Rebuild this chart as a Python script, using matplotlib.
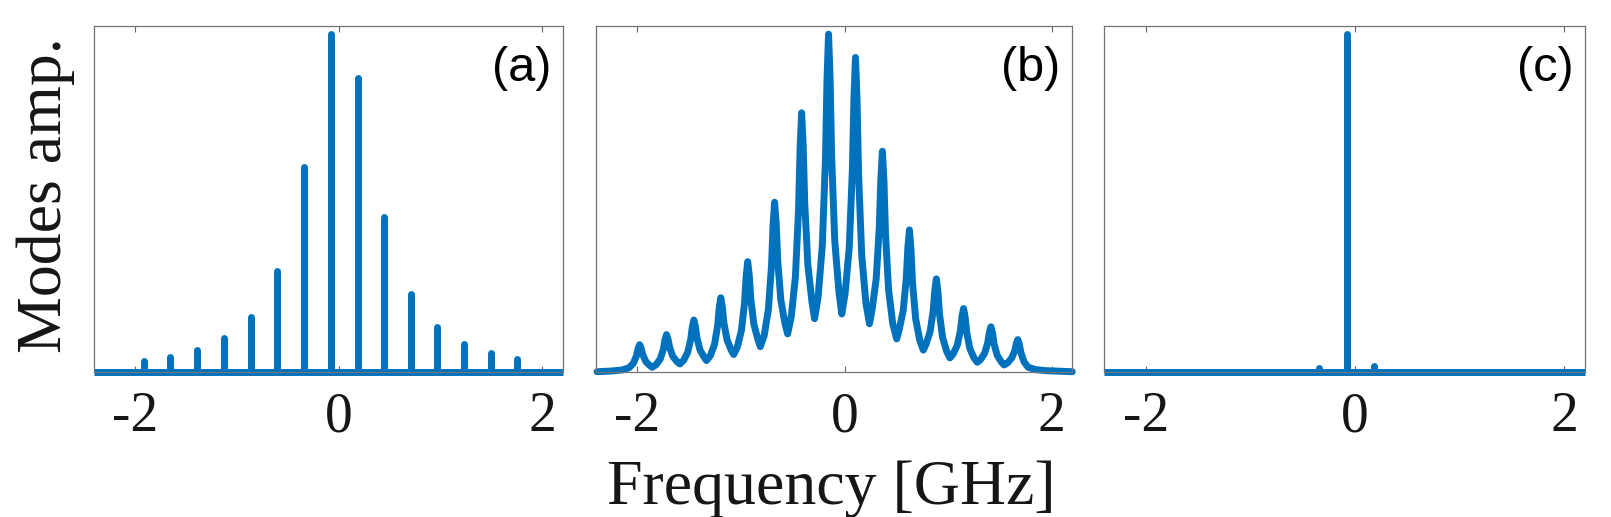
import numpy as np
import matplotlib
matplotlib.use('Agg')
import matplotlib.pyplot as plt

plt.rcParams['axes.unicode_minus'] = False

# x range shared by all three panels [GHz]
x_range = (-2.4, 2.2)
x_ticks = [-2, 0, 2]
blue = '#0072BD'

# (a) narrow comb lines: positions and heights
a_pos = [-1.913, -1.652, -1.390, -1.125, -0.863, -0.602, -0.340, -0.078,
         0.186, 0.445, 0.706, 0.968, 1.233, 1.495, 1.756]
a_amp = [0.033, 0.045, 0.064, 0.099, 0.163, 0.299, 0.607, 1.000,
         0.869, 0.457, 0.230, 0.131, 0.082, 0.055, 0.039]

# (b) broadened modes (one row per mode + valley)
b_x = [-2.39, -2.25, -2.15,
       -2.079, -2.039, -2.009, -1.994, -1.979, -1.964, -1.949, -1.919, -1.879, -1.857,
       -1.819, -1.779, -1.749, -1.734, -1.719, -1.704, -1.689, -1.659, -1.619, -1.590,
       -1.555, -1.515, -1.485, -1.470, -1.455, -1.440, -1.425, -1.395, -1.355, -1.333,
       -1.295, -1.255, -1.225, -1.210, -1.195, -1.180, -1.165, -1.135, -1.095, -1.070,
       -1.035, -0.995, -0.965, -0.950, -0.935, -0.920, -0.905, -0.875, -0.835, -0.813,
       -0.775, -0.735, -0.705, -0.690, -0.675, -0.660, -0.645, -0.615, -0.575, -0.549,
       -0.514, -0.474, -0.444, -0.429, -0.414, -0.399, -0.384, -0.354, -0.314, -0.289,
       -0.254, -0.214, -0.184, -0.169, -0.154, -0.139, -0.124, -0.094, -0.054, -0.026,
       0.006, 0.046, 0.076, 0.091, 0.106, 0.121, 0.136, 0.166, 0.206, 0.241,
       0.266, 0.306, 0.336, 0.351, 0.366, 0.381, 0.396, 0.426, 0.466, 0.504,
       0.527, 0.567, 0.597, 0.612, 0.627, 0.642, 0.657, 0.687, 0.727, 0.761,
       0.787, 0.827, 0.857, 0.872, 0.887, 0.902, 0.917, 0.947, 0.987, 1.018,
       1.050, 1.090, 1.120, 1.135, 1.150, 1.165, 1.180, 1.210, 1.250, 1.282,
       1.314, 1.354, 1.384, 1.399, 1.414, 1.429, 1.444, 1.474, 1.514, 1.542,
       1.574, 1.614, 1.644, 1.659, 1.674, 1.689, 1.704, 1.734, 1.774,
       1.85, 1.95, 2.20]
b_y = [0.000, 0.002, 0.005,
       0.012, 0.025, 0.047, 0.068, 0.080, 0.069, 0.051, 0.030, 0.018, 0.013,
       0.021, 0.038, 0.067, 0.095, 0.110, 0.096, 0.072, 0.046, 0.030, 0.023,
       0.033, 0.057, 0.096, 0.132, 0.153, 0.134, 0.100, 0.064, 0.043, 0.033,
       0.048, 0.081, 0.137, 0.189, 0.219, 0.192, 0.145, 0.095, 0.064, 0.051,
       0.073, 0.123, 0.205, 0.282, 0.326, 0.286, 0.215, 0.140, 0.094, 0.074,
       0.108, 0.185, 0.314, 0.434, 0.502, 0.440, 0.330, 0.213, 0.143, 0.112,
       0.164, 0.282, 0.479, 0.662, 0.767, 0.669, 0.499, 0.316, 0.206, 0.157,
       0.224, 0.376, 0.629, 0.865, 1.000, 0.867, 0.635, 0.387, 0.237, 0.171,
       0.232, 0.369, 0.597, 0.809, 0.931, 0.805, 0.584, 0.347, 0.205, 0.142,
       0.183, 0.275, 0.428, 0.571, 0.653, 0.564, 0.408, 0.242, 0.142, 0.097,
       0.123, 0.181, 0.278, 0.368, 0.420, 0.363, 0.263, 0.157, 0.093, 0.064,
       0.081, 0.119, 0.182, 0.241, 0.275, 0.238, 0.172, 0.102, 0.060, 0.041,
       0.053, 0.079, 0.123, 0.164, 0.187, 0.162, 0.117, 0.069, 0.041, 0.028,
       0.036, 0.055, 0.087, 0.116, 0.133, 0.115, 0.083, 0.049, 0.029, 0.020,
       0.026, 0.040, 0.062, 0.083, 0.095, 0.081, 0.056, 0.029, 0.013,
       0.006, 0.003, 0.000]

# (c) single dominant mode plus two tiny side modes
c_pos = [-0.341, -0.080, 0.185]
c_amp = [0.012, 1.000, 0.016]

panel_tags = ['(a)', '(b)', '(c)']

W, H = 1611, 517
fig = plt.figure(figsize=(W / 100, H / 100), dpi=100)

# axes boxes in pixels: left, right
boxes = [(94.3, 562.7), (596.0, 1072.3), (1104.0, 1585.0)]
top_px, bot_px = 25.7, 371.7

axes = []
for left, right in boxes:
    ax = fig.add_axes([left / W, (H - bot_px) / H, (right - left) / W,
                       (bot_px - top_px) / H])
    axes.append(ax)

lw = 5.0
ax = axes[0]
ax.plot(x_range, [0, 0], color=blue, lw=lw, solid_capstyle='butt', clip_on=False)
ax.vlines(a_pos, 0, a_amp, color=blue, lw=lw, capstyle='round')

ax = axes[1]
ax.plot(b_x, b_y, color=blue, lw=lw, solid_joinstyle='round',
        solid_capstyle='round', clip_on=False)

ax = axes[2]
ax.plot(x_range, [0, 0], color=blue, lw=lw, solid_capstyle='butt', clip_on=False)
ax.vlines(c_pos, 0, c_amp, color=blue, lw=lw, capstyle='round')

for ax, tag in zip(axes, panel_tags):
    ax.set_xlim(*x_range)
    ax.set_ylim(0, 1.025)
    ax.set_xticks(x_ticks)
    ax.set_xticklabels([str(t) for t in x_ticks], family='Liberation Serif',
                       fontsize=40)
    ax.set_yticks([])
    ax.tick_params(axis='x', direction='in', top=True, length=4, width=0.8,
                   color='0.4', pad=14, labelcolor='#161616')
    for sp in ax.spines.values():
        sp.set_color('0.45')
        sp.set_linewidth(0.9)
    ax.annotate(tag, xy=(1, 1), xycoords='axes fraction', xytext=(-8.5, -30.5),
                textcoords='offset points', ha='right', va='center',
                family='Liberation Sans', fontsize=35, color='black')

fig.text(831.5 / W, 13 / H, 'Frequency [GHz]', ha='center', va='baseline',
         family='Liberation Serif', fontsize=46, color='#161616')
fig.text(46 / W, (H - 195) / H, 'Modes amp.', ha='center', va='center',
         rotation=90, family='Liberation Serif', fontsize=46, color='#161616')

fig.savefig('out.png', dpi=100)
